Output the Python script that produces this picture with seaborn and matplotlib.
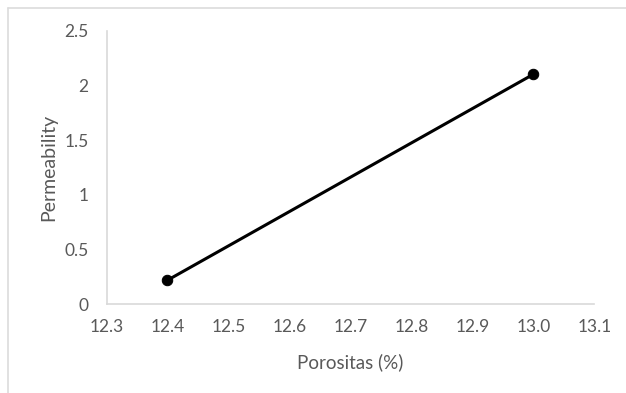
import matplotlib
matplotlib.use("Agg")
import matplotlib.pyplot as plt
from matplotlib.lines import Line2D
import pandas as pd
import seaborn as sns

# Porosity vs permeability measurements
porositas = [12.4, 13.0]
permeability = [0.22, 2.10]

x_ticks = [12.3, 12.4, 12.5, 12.6, 12.7, 12.8, 12.9, 13.0, 13.1]
y_ticks = [0, 0.5, 1, 1.5, 2, 2.5]
y_tick_labels = ["0", "0.5", "1", "1.5", "2", "2.5"]

x_label = "Porositas (%)"
y_label = "Permeability"

sns.set_theme(style="white")
plt.rcParams["font.family"] = ["Lato", "DejaVu Sans"]

text_color = "#595959"
axis_color = "#d9d9d9"

W, H = 626, 393
fig = plt.figure(figsize=(W / 100, H / 100), dpi=100)
ax = fig.add_axes([106.5 / W, (H - 304.3) / H, (594.3 - 106.5) / W, (304.3 - 30.5) / H])

df = pd.DataFrame({"porositas": porositas, "permeability": permeability})
sns.lineplot(data=df, x="porositas", y="permeability", ax=ax,
             color="black", linewidth=2.2, marker="o", markersize=7.5,
             markeredgecolor="black", markerfacecolor="black")

ax.set_xlim(x_ticks[0], x_ticks[-1])
ax.set_ylim(y_ticks[0], y_ticks[-1])
ax.set_xticks(x_ticks)
ax.set_xticklabels([f"{v:.1f}" for v in x_ticks])
ax.set_yticks(y_ticks)
ax.set_yticklabels(y_tick_labels)
ax.tick_params(axis="both", length=0, labelsize=12.5, colors=text_color)
ax.tick_params(axis="x", pad=10.5)
ax.tick_params(axis="y", pad=13)

ax.set_xlabel(x_label, fontsize=13.5, color=text_color, labelpad=13)
ax.set_ylabel(y_label, fontsize=14, color=text_color, labelpad=5)

for side in ("top", "right"):
    ax.spines[side].set_visible(False)
for side in ("left", "bottom"):
    ax.spines[side].set_color(axis_color)
    ax.spines[side].set_linewidth(1.2)

# Chart-area frame (top and left edges)
fig.add_artist(Line2D([8 / W, 1], [1 - 8 / H, 1 - 8 / H], color="#dcdcdc", lw=1.2))
fig.add_artist(Line2D([8 / W, 8 / W], [0, 1 - 8 / H], color="#dcdcdc", lw=1.2))

fig.savefig("out.png", dpi=100, facecolor="white")
